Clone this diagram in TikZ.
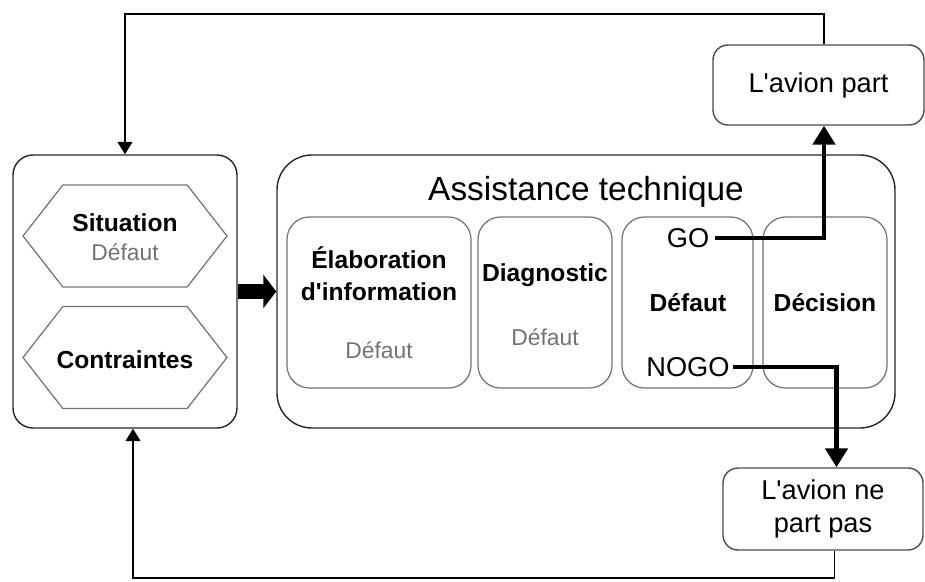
\documentclass[tikz,border=0pt]{standalone}
\usepackage{fontspec}
\setmainfont{Liberation Sans}
\usetikzlibrary{arrows.meta, shapes.symbols}

\begin{document}
\begin{tikzpicture}[
  box/.style={draw=black!85, line width=0.8pt, rounded corners=0.4cm},
  inbox/.style={draw=black!55, line width=0.7pt, rounded corners=0.45cm, minimum height=3.42cm},
  hexa/.style={draw=black!55, line width=0.7pt, signal, signal to=west and east, signal pointer angle=104, minimum width=4.08cm, minimum height=2.04cm},
  lbl/.style={font=\fontsize{14}{18}\selectfont\bfseries, align=center},
  grey/.style={text=black!55, font=\fontsize{13}{16}\selectfont},
  txt/.style={font=\fontsize{15.5}{19}\selectfont, align=center},
  flow/.style={line width=2.8pt, -{Triangle[width=0.44cm,length=0.38cm]}},
  back/.style={line width=0.8pt, -{Triangle[width=0.3cm,length=0.25cm]}}]
\useasboundingbox (0, 0) rectangle (18.5, 11.62);

\node[box, minimum width=4.48cm, minimum height=5.46cm] (env) at (2.5, 5.79) {};
\node[hexa] (sit) at (2.5, 6.9) {};
\node[hexa] (con) at (2.5, 4.47) {};
\node[lbl] (sitl) at (2.5, 7.16) {Situation};
\node[grey] (sitd) at (2.5, 6.58) {Défaut};
\node[lbl] (conl) at (2.5, 4.42) {Contraintes};

\node[box, rounded corners=0.7cm, minimum width=12.36cm, minimum height=5.46cm] (assist) at (11.72, 5.79) {};
\node[font=\fontsize{19}{23}\selectfont] (assistl) at (11.72, 7.78) {Assistance technique};

\node[inbox, minimum width=3.68cm] (ela) at (7.58, 5.57) {};
\node[inbox, minimum width=2.68cm] (diag) at (10.9, 5.57) {};
\node[inbox, minimum width=2.62cm] (def) at (13.75, 5.57) {};
\node[inbox, minimum width=2.48cm] (dec) at (16.5, 5.57) {};

\node[lbl] (elal) at (7.58, 6.14) {Élaboration\\d\textquotesingle information};
\node[grey] (elad) at (7.58, 4.62) {Défaut};
\node[lbl] (diagl) at (10.9, 6.12) {Diagnostic};
\node[grey] (diagd) at (10.9, 4.88) {Défaut};
\node[txt] (go) at (13.76, 6.86) {GO};
\node[lbl] (defl) at (13.76, 5.56) {Défaut};
\node[txt, inner sep=2pt] (nogo) at (13.76, 4.28) {NOGO};
\node[lbl] (decl) at (16.5, 5.56) {Décision};

\node[box, draw=black!70, rounded corners=0.3cm, minimum width=4.22cm, minimum height=1.6cm, txt] (part) at (16.37, 9.92) {L\textquotesingle avion part};
\node[box, draw=black!70, rounded corners=0.3cm, minimum width=4.0cm, minimum height=1.64cm, txt] (nopas) at (16.46, 1.44) {L\textquotesingle avion ne\\part pas};

\coordinate (topl) at (2.5, 11.34);
\coordinate (botl) at (2.66, 0.06);

\draw[line width=0.3cm, -{Triangle[width=0.66cm,length=0.26cm]}] (env.east) -- (assist.west);
\draw[flow] (go.east) -| ([xshift=0.11cm]part.south);
\draw[flow] (nogo.east) -| ([xshift=0.27cm]nopas.north);
\draw[back] ([xshift=0.11cm]part.north) |- (topl) -- (env.north);
\draw[back] ([xshift=0.23cm]nopas.south) |- (botl) -- ([xshift=0.16cm]env.south);
\end{tikzpicture}
\end{document}
